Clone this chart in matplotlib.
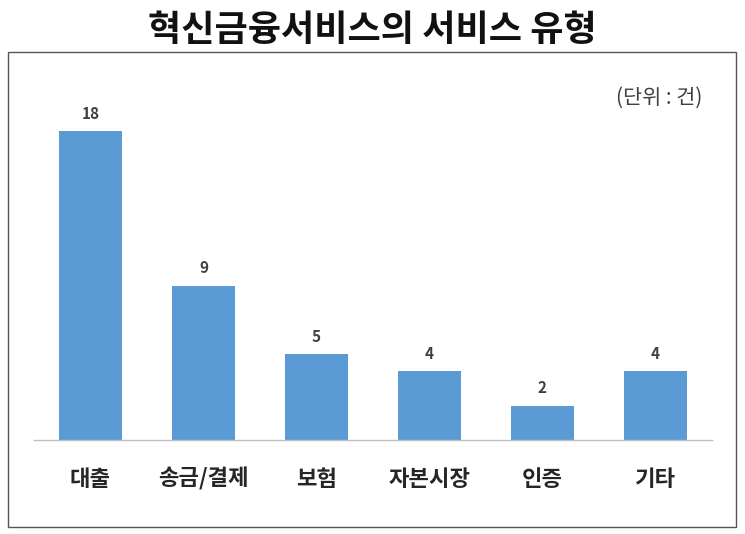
import matplotlib
matplotlib.use('Agg')
import matplotlib.pyplot as plt
from matplotlib.patches import Rectangle

plt.rcParams['font.family'] = ['Noto Sans CJK KR', 'DejaVu Sans']

categories = ['대출', '송금/결제', '보험', '자본시장', '인증', '기타']
counts = [18, 9, 5, 4, 2, 4]
title = '혁신금융서비스의 서비스 유형'
unit_text = '(단위 : 건)'

BAR_COLOR = '#5B9BD5'
TEXT = '#404040'

fig = plt.figure(figsize=(7.45, 5.34), dpi=100)
fig.patch.set_facecolor('white')

# outer frame
fig.patches.append(Rectangle((8 / 745, 1 - 527 / 534), 728 / 745, 475 / 534,
                             transform=fig.transFigure, fill=False,
                             edgecolor='#555555', linewidth=1.0))

fig.text(0.5, 1 - 31 / 534, title, ha='center', va='center',
         fontsize=26, fontweight='bold', color='#111111')

ax = fig.add_axes([34 / 745, 94 / 534, 678 / 745, 343 / 534])
x = list(range(len(categories)))
bars = ax.bar(x, counts, width=0.56, color=BAR_COLOR, zorder=2)
ax.set_xlim(-0.5, len(categories) - 0.5)
ax.set_ylim(0, 20)

for xi, v in zip(x, counts):
    ax.text(xi, v + 0.55, str(v), ha='center', va='bottom',
            fontsize=11, fontweight='bold', color=TEXT)

ax.set_xticks(x)
ax.set_xticklabels(categories, fontsize=16, fontweight='bold', color='#262626')
ax.tick_params(axis='x', length=0, pad=20)
ax.set_yticks([])
for side in ['top', 'right', 'left']:
    ax.spines[side].set_visible(False)
ax.spines['bottom'].set_color('#BFBFBF')
ax.spines['bottom'].set_linewidth(1.0)
ax.patch.set_alpha(0)

fig.text(702 / 745, 1 - 98 / 534, unit_text, ha='right', va='center',
         fontsize=15, color=TEXT)

fig.savefig('out.png', dpi=100, facecolor='white')
